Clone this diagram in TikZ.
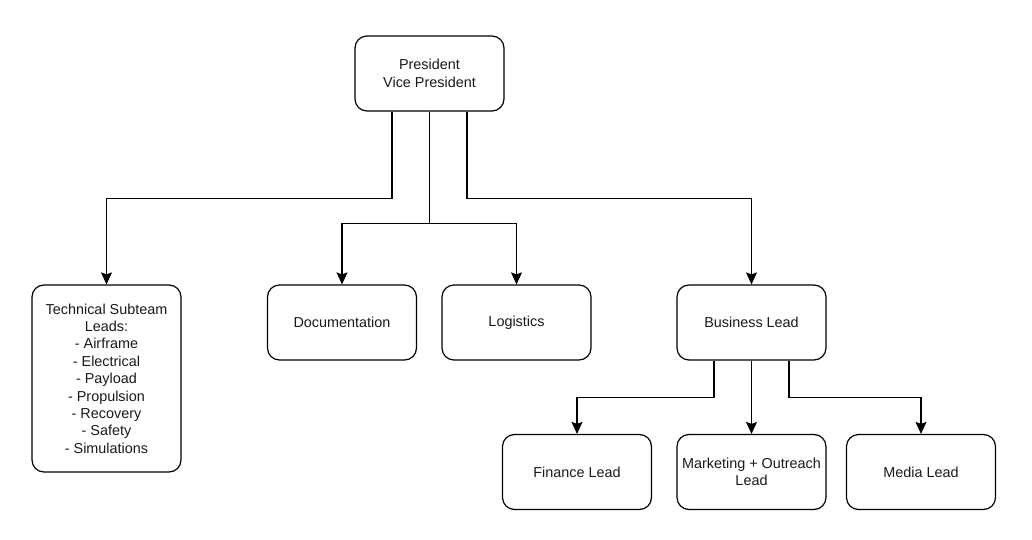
\documentclass[tikz,border=0pt]{standalone}
\usepackage{fontspec}
\setmainfont{Liberation Sans}
\usetikzlibrary{arrows.meta}

\begin{document}
\begin{tikzpicture}[x=1pt,y=1pt,yscale=-1,xscale=1,
  rolebox/.style={draw, line width=1.2pt, rounded corners=12pt, minimum width=149pt, minimum height=75pt, inner sep=1pt, align=center, text=black!90, font=\fontsize{14.4}{17.4}\selectfont},
  link/.style={line width=1.2pt, -{Stealth[length=12pt,width=11pt,inset=2pt]}}]
\useasboundingbox (0,0) rectangle (1032,540);

%Shape: Rounded Rect [top]
\node (pres) [rolebox] at (429.5,73.5) {President\\Vice President};

%Shape: Rounded Rect [second row]
\node (tech) [rolebox, minimum height=187pt] at (106.5,378.5) {Technical Subteam\\Leads:\\- Airframe\\- Electrical\\- Payload\\- Propulsion\\- Recovery\\- Safety\\- Simulations};
\node (docu) [rolebox] at (342,322.5) {Documentation};
\node (logi) [rolebox] at (516.5,322.5) {Logistics};
\node (busi) [rolebox] at (751.5,322.5) {Business Lead};

%Shape: Rounded Rect [third row]
\node (fina) [rolebox] at (577,472) {Finance Lead};
\node (mark) [rolebox] at (751.5,472) {Marketing + Outreach\\Lead};
\node (medi) [rolebox] at (921,472) {Media Lead};

%Straight Lines [from president]
\draw [link] ([xshift=-37.5pt]pres.south) -- ++(0,87) -| (tech.north);
\draw [link] (pres.south) -- ++(0,112) -| (docu.north);
\draw [link] (pres.south) -- ++(0,112) -| (logi.north);
\draw [link] ([xshift=37.5pt]pres.south) -- ++(0,87) -| (busi.north);

%Straight Lines [from business lead]
\draw [link] ([xshift=-37.5pt]busi.south) -- ++(0,37) -| (fina.north);
\draw [link] (busi.south) -- (mark.north);
\draw [link] ([xshift=37.5pt]busi.south) -- ++(0,37) -| (medi.north);

\end{tikzpicture}
\end{document}
